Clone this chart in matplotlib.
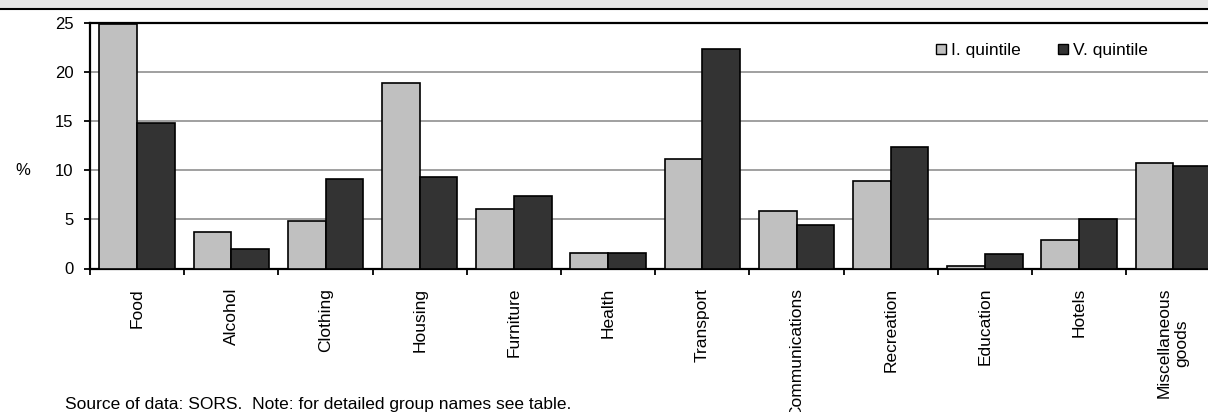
import matplotlib
matplotlib.use("Agg")
import matplotlib.pyplot as plt
from matplotlib.patches import Patch, Rectangle
from matplotlib.lines import Line2D
import numpy as np

plt.rcParams['font.family'] = ['Liberation Sans', 'DejaVu Sans']

categories = ["Food", "Alcohol", "Clothing", "Housing", "Furniture", "Health",
              "Transport", "Communications", "Recreation", "Education", "Hotels",
              "Miscellaneous\ngoods"]
quintile_1 = [24.9, 3.7, 4.8, 18.9, 6.1, 1.6, 11.1, 5.9, 8.9, 0.3, 2.9, 10.7]
quintile_5 = [14.8, 2.0, 9.1, 9.3, 7.4, 1.6, 22.4, 4.4, 12.4, 1.5, 5.0, 10.4]
series_names = ["I. quintile", "V. quintile"]
y_ticks = [0, 5, 10, 15, 20, 25]
source_note = "Source of data: SORS.  Note: for detailed group names see table."

LIGHT = "#c0c0c0"
DARK = "#333333"

W, H = 1208, 412
fig = plt.figure(figsize=(W / 100, H / 100), dpi=100)

# header band across the top edge
fig.patches.append(Rectangle((0, 1 - 8 / H), 1, 8 / H, transform=fig.transFigure,
                             facecolor="#e6e6e6", edgecolor="none", zorder=0))
fig.lines.append(Line2D([0, 1], [1 - 8.5 / H, 1 - 8.5 / H], transform=fig.transFigure,
                        color="black", lw=1.5))

left_px, right_px = 90, 90 + 12 * 94.2
top_px, bottom_px = 23, 268.5
ax = fig.add_axes([left_px / W, 1 - bottom_px / H,
                   (right_px - left_px) / W, (bottom_px - top_px) / H])

x = np.arange(len(categories))
bw = 1 / 2.5
ax.bar(x - bw / 2, quintile_1, width=bw, color=LIGHT, edgecolor="black",
       linewidth=1.2, zorder=3)
ax.bar(x + bw / 2, quintile_5, width=bw, color=DARK, edgecolor="black",
       linewidth=1.2, zorder=3)

ax.set_xlim(-0.5, len(categories) - 0.5)
ax.set_ylim(0, 25)
ax.set_yticks(y_ticks)
ax.set_yticklabels([str(v) for v in y_ticks])
for v in y_ticks[1:-1]:
    ax.axhline(v, color="#999999", lw=1.3, zorder=1)

# category boundaries carry the tick marks, names sit at the centres
ax.set_xticks(np.arange(len(categories) + 1) - 0.5)
ax.set_xticklabels([])
ax.set_xticks(x, minor=True)
ax.set_xticklabels(categories, minor=True, rotation=90, fontsize=12.5,
                   va="top", ha="center", multialignment="center")
ax.tick_params(axis="x", which="minor", length=0, pad=14)
ax.tick_params(axis="x", which="major", length=4, width=1.3, direction="out")
ax.tick_params(axis="y", length=4, width=1.3, direction="out", labelsize=12, pad=8)

for side in ["left", "bottom", "top"]:
    ax.spines[side].set_linewidth(1.6)
    ax.spines[side].set_color("black")
ax.spines["right"].set_visible(False)

fig.text(23 / W, 1 - 171 / H, "%", ha="center", va="center", fontsize=12)

handles = [Patch(facecolor=LIGHT, edgecolor="black", linewidth=1.0),
           Patch(facecolor=DARK, edgecolor="black", linewidth=1.0)]
fig.legend(handles, series_names, loc="center", ncol=2, frameon=False,
           bbox_to_anchor=(1042 / W, 1 - 50.7 / H), fontsize=12.5,
           handlelength=0.6, handleheight=0.45, handletextpad=0.3,
           columnspacing=2.1, borderaxespad=0)

fig.text(65 / W, 1 - 404 / H, source_note, ha="left", va="center", fontsize=12.5)

fig.savefig("out.png", dpi=100)
